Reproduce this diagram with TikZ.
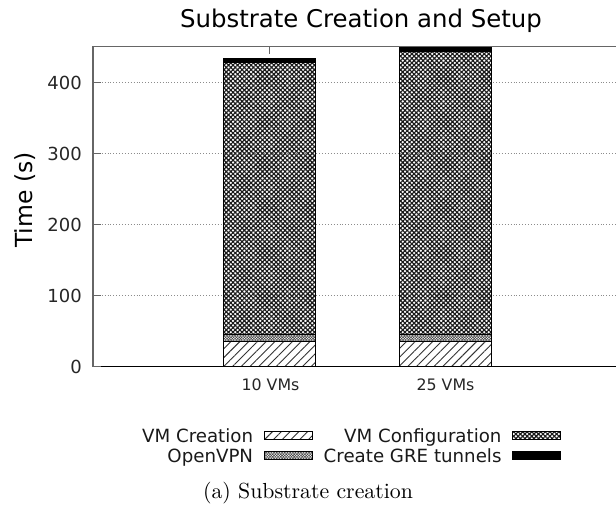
\documentclass[tikz,border=0pt]{standalone}
\usepackage{fontspec}
\newfontfamily\plotfont{DejaVu Sans}
\usetikzlibrary{patterns.meta}

\tikzset{
	gridline/.style={draw=black!45,line width=0.9pt,dotted},
	axisline/.style={draw=black!60,line width=1.2pt},
	barframe/.style={draw=black,line width=0.9pt},
	vmcreate/.style={barframe,pattern={Lines[angle=45,distance=6.2pt,line width=0.9pt]},pattern color=black!80},
	openvpn/.style={barframe,pattern={Hatch[angle=45,distance=1.9pt,line width=0.6pt]},pattern color=black!70},
	vmconfig/.style={barframe,pattern={Hatch[angle=45,distance=3.2pt,line width=1.15pt]},pattern color=black!90},
	gretunnel/.style={barframe,fill=black},
	ticklabel/.style={font=\plotfont\fontsize{18}{20}\selectfont,text=black!85,inner sep=0pt},
	barlabel/.style={font=\plotfont\fontsize{15.8}{18}\selectfont,text=black!85,inner sep=0pt,anchor=base},
	keylabel/.style={font=\plotfont\fontsize{18.2}{20}\selectfont,text=black!90,inner sep=0pt,anchor=base east}
}

\begin{document}
\begin{tikzpicture}[x=1pt,y=1pt]
			\def\PlotLeft{93}
			\def\PlotRight{616}
			\def\PlotTop{46.7}
			\def\PlotBottom{366.7}
			\def\UnitPx{0.71}
			\def\BarWidth{92.5}
			\useasboundingbox (0,0) rectangle (616,-520);
			% title and axis label
			\node[font=\plotfont\fontsize{24.4}{28}\selectfont,anchor=base,inner sep=0pt] (title) at (361,-27.5) {Substrate Creation and Setup};
			\node[font=\plotfont\fontsize{23.5}{26}\selectfont,rotate=90,inner sep=0pt] (ylabel) at (25,-200) {Time (s)};
			% grid
			\foreach \v in {100,200,300,400}
				\draw[gridline] ({\PlotLeft},{-\PlotBottom+\v*\UnitPx}) -- ({\PlotRight},{-\PlotBottom+\v*\UnitPx});
			% stacked bars
			\foreach \bx/\vc/\vo/\vm/\vg in {223/36/10/382/5.6,399/36/10/398/6}{
				\pgfmathsetmacro\yA{-\PlotBottom}
				\pgfmathsetmacro\yB{\yA+\vc*\UnitPx}
				\pgfmathsetmacro\yC{\yB+\vo*\UnitPx}
				\pgfmathsetmacro\yD{\yC+\vm*\UnitPx}
				\pgfmathsetmacro\yE{\yD+\vg*\UnitPx}
				\draw[vmcreate] (\bx,\yA) rectangle ({\bx+\BarWidth},\yB);
				\draw[openvpn] (\bx,\yB) rectangle ({\bx+\BarWidth},\yC);
				\draw[vmconfig] (\bx,\yC) rectangle ({\bx+\BarWidth},\yD);
				\draw[gretunnel] (\bx,\yD) rectangle ({\bx+\BarWidth},\yE);
			}
			% axes
			\draw[axisline] (\PlotLeft,-\PlotBottom) -- (\PlotLeft,-\PlotTop) -- (\PlotRight,-\PlotTop);
			\draw[line width=1.2pt] (\PlotLeft,-\PlotBottom) -- (\PlotRight,-\PlotBottom);
			\foreach \v in {0,100,200,300,400}{
				\draw[axisline] ({\PlotLeft},{-\PlotBottom+\v*\UnitPx}) -- ({\PlotLeft+8},{-\PlotBottom+\v*\UnitPx});
				\node[ticklabel,anchor=east] (ytick\v) at ({\PlotLeft-11},{-\PlotBottom+\v*\UnitPx}) {\v};
			}
			\draw[axisline] (269.3,-\PlotTop) -- (269.3,-54);
			\node[barlabel] (xtick10) at (270.5,-390.5) {10 VMs};
			\node[barlabel] (xtick25) at (445.5,-390.5) {25 VMs};
			% key
			\node[keylabel] (keycreate) at (253.3,-442) {VM Creation};
			\node[keylabel] (keyconfig) at (501.7,-442) {VM Configuration};
			\node[keylabel] (keyvpn) at (253.3,-462) {OpenVPN};
			\node[keylabel] (keygre) at (501.7,-462) {Create GRE tunnels};
			\draw[vmcreate,line width=0.7pt] (264,-431.5) rectangle (312,-439.5);
			\draw[vmconfig,line width=0.7pt] (512.7,-431.5) rectangle (560.7,-439.5);
			\draw[openvpn,line width=0.7pt] (264,-451.5) rectangle (312,-459.5);
			\draw[gretunnel,line width=0.7pt] (512.7,-451.5) rectangle (560.7,-459.5);
			% caption
			\node[scale=2.18,transform shape,anchor=base,inner sep=0pt] (caption) at (308,-498) {(a) Substrate creation};
		\end{tikzpicture}
\end{document}
